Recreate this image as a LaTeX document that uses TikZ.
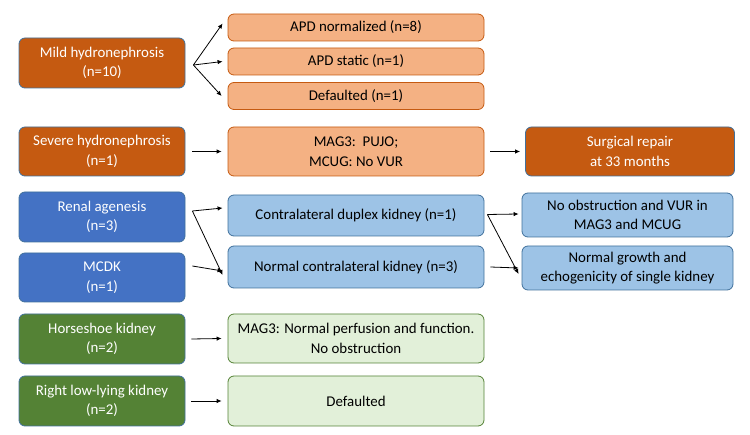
\documentclass[tikz,border=0pt]{standalone}
\usepackage{fontspec}
\setmainfont{Carlito}
\usepackage{xcolor}
\usepackage{tikz}
\usetikzlibrary{arrows.meta}

\definecolor{orgdark}{HTML}{C55A11}
\definecolor{orglight}{HTML}{F4B183}
\definecolor{orgedge}{HTML}{C55A11}
\definecolor{bluedark}{HTML}{4472C4}
\definecolor{bluelight}{HTML}{9DC3E6}
\definecolor{blueedge}{HTML}{41719C}
\definecolor{greendark}{HTML}{548235}
\definecolor{greenlight}{HTML}{E2F0D9}
\definecolor{greenedge}{HTML}{548235}

\begin{document}
\begin{tikzpicture}[x=1pt,y=-1pt]
      \tikzset{box/.style={rectangle,rounded corners=6pt,align=center,inner sep=0pt,line width=0.8pt,
          font=\fontsize{14.9}{19.5}\selectfont}}
      \tikzset{odark/.style={box,fill=orgdark,draw=blueedge,text=white}}
      \tikzset{olight/.style={box,fill=orglight,draw=orgedge}}
      \tikzset{bdark/.style={box,fill=bluedark,draw=blueedge,text=white}}
      \tikzset{blight/.style={box,fill=bluelight,draw=blueedge}}
      \tikzset{gdark/.style={box,fill=greendark,draw=blueedge,text=white}}
      \tikzset{glight/.style={box,fill=greenlight,draw=greenedge}}
      \tikzset{arrow/.style={draw,line width=0.8pt,-{Latex[length=5pt,width=4.5pt]}}}
      \def\lw{166pt}
      \def\mw{256pt}
      \def\rw{211pt}

      \useasboundingbox (0,0) rectangle (750,435);

      % hydronephrosis
      \node[odark,minimum width=\lw,minimum height=50pt] (mild) at (102,63) {Mild hydronephrosis\\(n=10)};
      \node[olight,minimum width=\mw,minimum height=27pt] (apdnorm) at (356,27.5) {APD normalized (n=8)};
      \node[olight,minimum width=\mw,minimum height=27pt] (apdstat) at (356,61.5) {APD static (n=1)};
      \node[olight,minimum width=\mw,minimum height=27pt] (apddef) at (356,96) {Defaulted (n=1)};

      \node[odark,minimum width=\lw,minimum height=49pt] (severe) at (102,151.5) {Severe hydronephrosis\\(n=1)};
      \node[olight,minimum width=\mw,minimum height=49pt] (pujo) at (356,151.5) {MAG3:\ \ PUJO;\\MCUG: No VUR};
      \node[odark,minimum width=209pt,minimum height=49pt] (surgery) at (630,151.5) {Surgical repair\\at 33 months};

      % single kidney
      \node[bdark,minimum width=\lw,minimum height=50pt] (renal) at (102,217) {Renal agenesis\\(n=3)};
      \node[bdark,minimum width=\lw,minimum height=49pt] (mcdk) at (102,277.5) {MCDK\\(n=1)};
      \node[blight,minimum width=\mw,minimum height=41pt] (duplex) at (356,215.5) {Contralateral duplex kidney (n=1)};
      \node[blight,minimum width=\mw,minimum height=42pt] (contra) at (356,267) {Normal contralateral kidney (n=3)};
      \node[blight,minimum width=\rw,minimum height=44pt] (noobs) at (627.5,215) {No obstruction and VUR in\\MAG3 and MCUG};
      \node[blight,minimum width=\rw,minimum height=44pt] (growth) at (627.5,268) {Normal growth and\\echogenicity of single kidney};

      % fusion / ectopia
      \node[gdark,minimum width=\lw,minimum height=50pt] (horse) at (102,339) {Horseshoe kidney\\(n=2)};
      \node[glight,minimum width=\mw,minimum height=49pt] (magnormal) at (356,338.5) {MAG3: Normal perfusion and function.\\No obstruction};
      \node[gdark,minimum width=\lw,minimum height=50pt] (lowlying) at (102,401) {Right low-lying kidney\\(n=2)};
      \node[glight,minimum width=\mw,minimum height=50pt] (lowdef) at (356,401) {Defaulted};

      \coordinate (mildfork) at ([xshift=8pt,yshift=-2pt]mild.east);
      \coordinate (renalfork) at ([xshift=7pt,yshift=6pt]renal.east);
      \coordinate (duplexfork) at ([xshift=3pt,yshift=1pt]duplex.east);

      \draw[arrow] (mildfork) -- ([xshift=-5pt,yshift=4pt]apdnorm.west);
      \draw[arrow] (mildfork) -- ([xshift=-5pt]apdstat.west);
      \draw[arrow] (mildfork) -- ([xshift=-6pt]apddef.west);
      \draw[arrow] ([xshift=7pt]severe.east) -- ([xshift=-6pt]pujo.west);
      \draw[arrow] ([xshift=6pt]pujo.east) -- ([xshift=-5pt]surgery.west);
      \draw[arrow] (renalfork) -- ([xshift=-5pt,yshift=7.5pt]duplex.west);
      \draw[arrow] (renalfork) -- ([xshift=-5pt,yshift=-8pt]contra.west);
      \draw[arrow] ([xshift=7pt,yshift=11.5pt]mcdk.east) -- ([xshift=-5pt,yshift=-4pt]contra.west);
      \draw[arrow] (duplexfork) -- ([xshift=-3pt,yshift=1pt]noobs.west);
      \draw[arrow] (duplexfork) -- ([xshift=-3pt,yshift=-6pt]growth.west);
      \draw[arrow] ([xshift=6pt]contra.east) -- ([xshift=-3pt]growth.west);
      \draw[arrow] ([xshift=6pt]horse.east) -- ([xshift=-6pt]magnormal.west);
      \draw[arrow] ([xshift=6pt]lowlying.east) -- ([xshift=-6pt]lowdef.west);
    \end{tikzpicture}
\end{document}
